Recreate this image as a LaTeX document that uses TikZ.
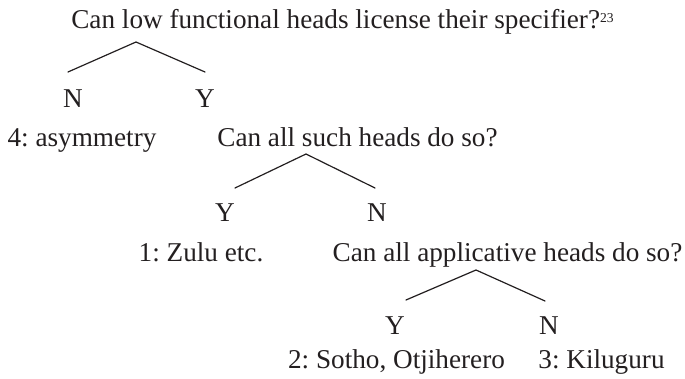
\documentclass[tikz,border=0pt]{standalone}
\usepackage{fontspec}
\setmainfont{Liberation Serif}
\usetikzlibrary{positioning}
\definecolor{Ink}{HTML}{231F20}
\frenchspacing
\newcommand{\fnmark}[1]{\raisebox{3.4pt}{\fontsize{6.8}{7}\selectfont #1}}
\tikzset{
  lbl/.style={anchor=base,inner sep=0pt,text=Ink,font=\fontsize{13.6}{16}\selectfont},
  branch/.style={Ink,line width=0.6pt,line cap=round}
}
\begin{document}
\begin{tikzpicture}[x=0.5pt,y=-0.5pt]
\useasboundingbox (0,0) rectangle (685,379);
% first question
\node[lbl] (q1) at (342.5,29) {Can low functional heads license their specifier?\fnmark{23}};
\coordinate (t1) at (136,42);
\coordinate (l1) at (68,72);
\coordinate (r1) at (205,72);
\draw[branch] (l1) -- (t1) -- (r1);
\node[lbl] (n1) at (73,108) {N};
\node[lbl] (y1) at (205,108) {Y};
% second question
\node[lbl] (a4) at (82,147) {4: asymmetry};
\node[lbl] (q2) at (357.5,147) {Can all such heads do so?};
\coordinate (t2) at (306,154);
\coordinate (l2) at (235,188);
\coordinate (r2) at (375,188);
\draw[branch] (l2) -- (t2) -- (r2);
\node[lbl] (y2) at (225,222) {Y};
\node[lbl] (n2) at (377,222) {N};
% third question
\node[lbl] (a1) at (201,262) {1: Zulu etc.};
\node[lbl] (q3) at (507.5,262) {Can all applicative heads do so?};
\coordinate (t3) at (476,270);
\coordinate (l3) at (406,300);
\coordinate (r3) at (545,301);
\draw[branch] (l3) -- (t3) -- (r3);
\node[lbl] (y3) at (395,335) {Y};
\node[lbl] (n3) at (549,335) {N};
\node[lbl] (a2) at (396.5,368) {2: Sotho, Otjiherero};
\node[lbl] (a3) at (601.5,368) {3: Kiluguru};
\end{tikzpicture}
\end{document}
